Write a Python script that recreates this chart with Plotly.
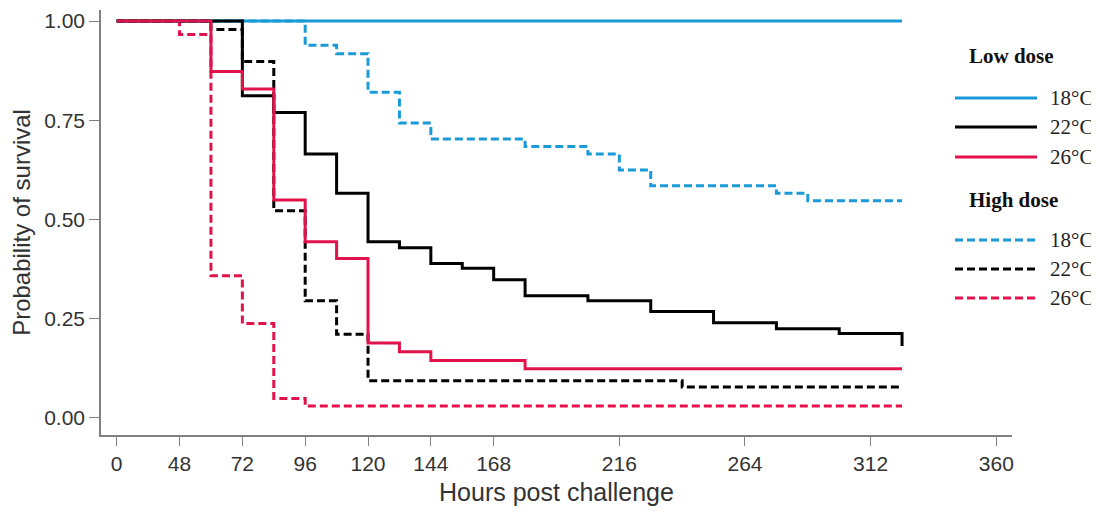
import plotly.graph_objects as go

# ---- data (hours as plotted; first tick labelled "0") ----
low_18_t = [24, 324]
low_18_s = [1.0, 1.0]

low_22_t = [24, 72, 84, 96, 108, 120, 132, 144, 156, 168, 180, 204, 228, 252, 276, 300, 324]
low_22_s = [1.0, 0.812, 0.770, 0.665, 0.566, 0.444, 0.429, 0.389, 0.377, 0.348, 0.308, 0.295,
            0.268, 0.240, 0.225, 0.213, 0.181]

low_26_t = [24, 60, 72, 84, 96, 108, 120, 132, 144, 180, 324]
low_26_s = [1.0, 0.873, 0.829, 0.549, 0.444, 0.402, 0.189, 0.167, 0.145, 0.124, 0.124]

high_18_t = [24, 96, 108, 120, 132, 144, 180, 204, 216, 228, 276, 288, 324]
high_18_s = [1.0, 0.939, 0.918, 0.821, 0.743, 0.703, 0.684, 0.665, 0.625, 0.585, 0.566, 0.547, 0.547]

high_22_t = [24, 60, 72, 84, 96, 108, 120, 240, 324]
high_22_s = [1.0, 0.979, 0.898, 0.522, 0.295, 0.211, 0.094, 0.078, 0.078]

high_26_t = [24, 48, 60, 72, 84, 96, 324]
high_26_s = [1.0, 0.966, 0.358, 0.238, 0.049, 0.030, 0.030]

x_tick_vals = [24, 48, 72, 96, 120, 144, 168, 216, 264, 312, 360]
x_tick_text = ["0", "48", "72", "96", "120", "144", "168", "216", "264", "312", "360"]
y_tick_vals = [0, 0.25, 0.5, 0.75, 1.0]
y_tick_text = ["0.00", "0.25", "0.50", "0.75", "1.00"]

temps = ["18°C", "22°C", "26°C"]
group_titles = ["Low dose", "High dose"]

BLUE = "#1a9ad7"
BLACK = "#000000"
RED = "#e2134b"
colors = [BLUE, BLACK, RED]
DASH = "8px,4px"

series = [
    (high_18_t, high_18_s, BLUE, DASH),
    (high_22_t, high_22_s, BLACK, DASH),
    (high_26_t, high_26_s, RED, DASH),
    (low_18_t, low_18_s, BLUE, "solid"),
    (low_22_t, low_22_s, BLACK, "solid"),
    (low_26_t, low_26_s, RED, "solid"),
]

fig = go.Figure()
for t, s, c, d in series:
    fig.add_trace(go.Scatter(x=t, y=s, mode="lines", line_shape="hv",
                             line=dict(color=c, width=3, dash=d),
                             showlegend=False, hoverinfo="skip"))

OFF = 8  # page body margin
W, H = 1099 - OFF, 511 - OFF
L, R, T, B = 101 - OFF, 1012 - OFF, 10 - OFF, 435 - OFF

def xp(px):
    return (px - OFF - L) / (R - L)

def yp(py):
    return (B - (py - OFF)) / (B - T)

# manual legend (positions in page pixels)
shapes = []
annotations = []
title_rows = [56, 200]
item_rows = [[98, 127, 157], [240, 269, 298]]
for g in range(2):
    annotations.append(dict(x=xp(967), y=yp(title_rows[g]), xref="paper", yref="paper",
                            text="<b>%s</b>" % group_titles[g], showarrow=False,
                            xanchor="left", yanchor="middle",
                            font=dict(family="Liberation Serif", size=21, color="#111")))
    for i in range(3):
        shapes.append(dict(type="line", xref="paper", yref="paper",
                           x0=xp(955), x1=xp(1037), y0=yp(item_rows[g][i]), y1=yp(item_rows[g][i]),
                           line=dict(color=colors[i], width=3,
                                     dash="solid" if g == 0 else DASH)))
        annotations.append(dict(x=xp(1048), y=yp(item_rows[g][i]), xref="paper", yref="paper",
                                text=temps[i], showarrow=False, xanchor="left", yanchor="middle",
                                font=dict(family="Liberation Serif", size=21, color="#222")))

axis_col = "#808080"
fig.update_layout(
    width=W, height=H,
    margin=dict(l=L, r=W - R, t=T, b=H - B),
    plot_bgcolor="white", paper_bgcolor="white",
    showlegend=False,
    shapes=shapes, annotations=annotations,
    xaxis=dict(range=[18, 366], tickmode="array", tickvals=x_tick_vals, ticktext=x_tick_text,
               showgrid=False, zeroline=False, showline=True, linecolor=axis_col, linewidth=1.5,
               ticks="outside", ticklen=9, tickcolor=axis_col, tickwidth=1.2,
               tickfont=dict(family="Liberation Sans Narrow, Liberation Sans, Arial", size=21, color="#333"),
               title=dict(text="Hours post challenge", standoff=10,
                          font=dict(family="Liberation Sans, Arial", size=25, color="#333"))),
    yaxis=dict(range=[-0.043, 1.028], tickmode="array", tickvals=y_tick_vals, ticktext=y_tick_text,
               showgrid=False, zeroline=False, showline=True, linecolor=axis_col, linewidth=1.5,
               ticks="outside", ticklen=10, tickcolor=axis_col, tickwidth=1.2,
               tickfont=dict(family="Liberation Sans, Arial", size=21, color="#333"),
               title=dict(text="Probability of survival", standoff=8,
                          font=dict(family="Liberation Sans, Arial", size=24, color="#333"))),
)

fig.write_html("out.html")
